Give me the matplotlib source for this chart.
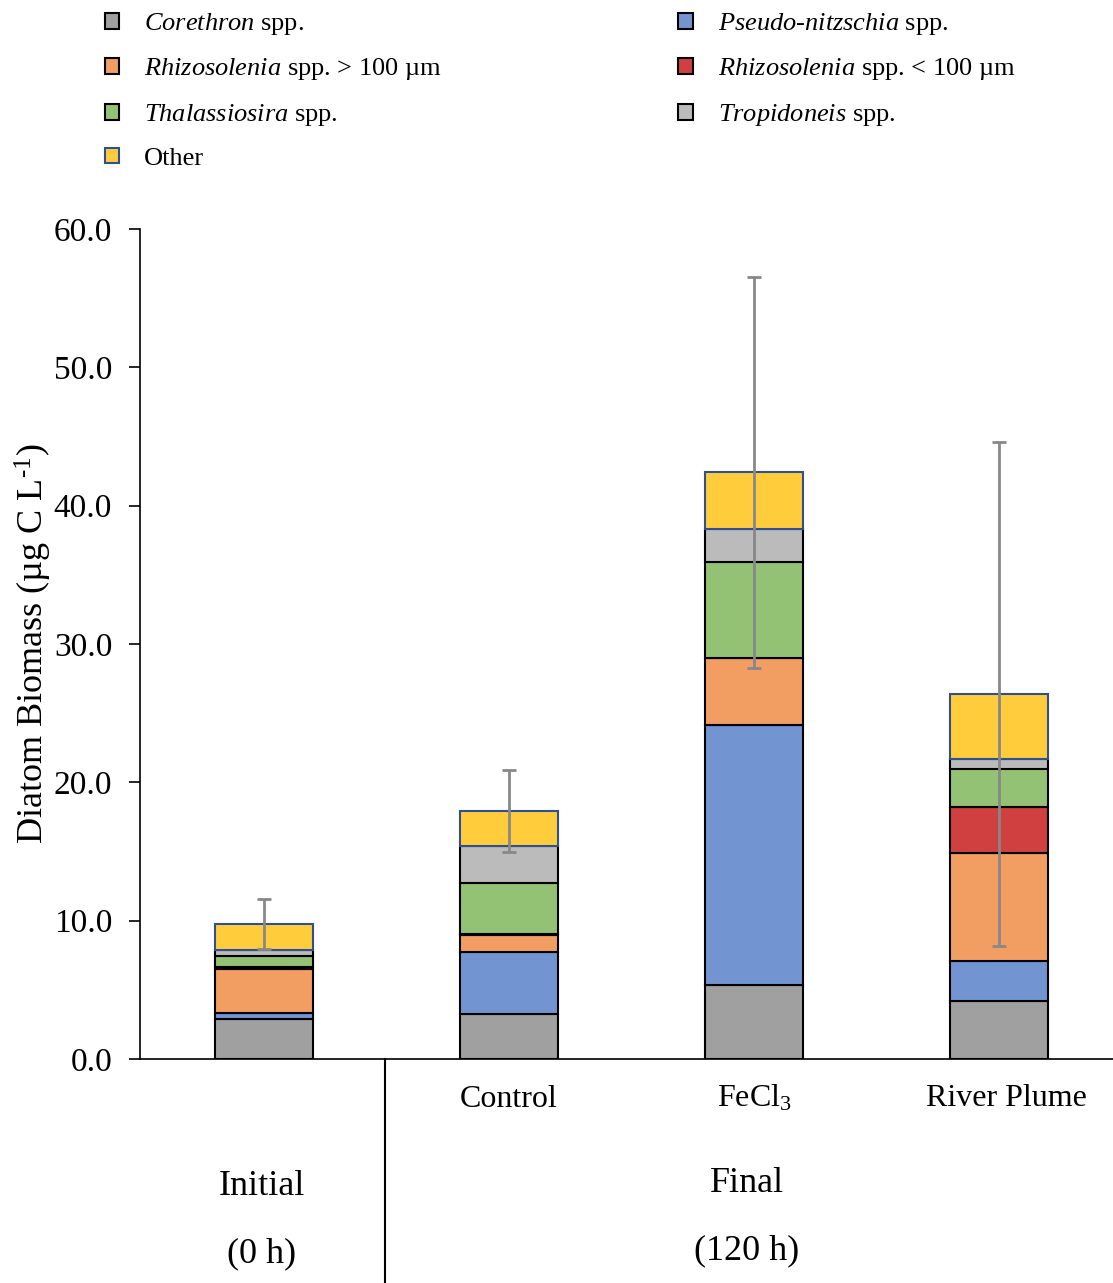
import matplotlib
matplotlib.use('Agg')
import matplotlib.pyplot as plt
import numpy as np
from matplotlib.patches import Patch
from matplotlib.lines import Line2D

plt.rcParams['font.family'] = ['Liberation Serif', 'DejaVu Serif']
plt.rcParams['mathtext.fontset'] = 'custom'
plt.rcParams['mathtext.rm'] = 'Liberation Serif'
plt.rcParams['mathtext.it'] = 'Liberation Serif:italic'

# treatments (bars)
treatments = ['Initial', 'Control', 'FeCl$_3$', 'River Plume']

# biomass per taxon (ug C / L), bottom to top
corethron = [2.9, 3.25, 5.35, 4.2]
pseudo = [0.45, 4.5, 18.8, 2.9]
rhizo_big = [3.15, 1.2, 4.85, 7.8]
rhizo_small = [0.15, 0.1, 0.0, 3.3]
thalassiosira = [0.8, 3.7, 6.9, 2.8]
tropidoneis = [0.45, 2.65, 2.4, 0.7]
other = [1.85, 2.55, 4.1, 4.7]

# error (+/-) on total
total_err = [1.8, 2.95, 14.15, 18.2]

taxa = [
    ('$\\mathit{Corethron}$ spp.', corethron, '#A0A0A0', 'black'),
    ('$\\mathit{Pseudo}$-$\\mathit{nitzschia}$ spp.', pseudo, '#7295D1', 'black'),
    ('$\\mathit{Rhizosolenia}$ spp. > 100 µm', rhizo_big, '#F29E63', 'black'),
    ('$\\mathit{Rhizosolenia}$ spp. < 100 µm', rhizo_small, '#D04040', 'black'),
    ('$\\mathit{Thalassiosira}$ spp.', thalassiosira, '#93C274', 'black'),
    ('$\\mathit{Tropidoneis}$ spp.', tropidoneis, '#BBBBBB', 'black'),
    ('Other', other, '#FFCD3C', '#2F4F8F'),
]

W, H = 1113, 1283
fig = plt.figure(figsize=(W / 100, H / 100), dpi=100)
ax = fig.add_axes([140 / W, 1 - 1059 / H, 1 - 140 / W, (1059 - 229) / H])

x = np.arange(len(treatments))
bottom = np.zeros(len(treatments))
handles = {}
for name, vals, col, ec in taxa:
    vals = np.array(vals)
    ax.bar(x, vals, width=0.4, bottom=bottom, color=col, edgecolor=ec,
           linewidth=1.5, label=name, zorder=2)
    handles[name] = Patch(facecolor=col, edgecolor=ec, linewidth=1.5)
    bottom = bottom + vals

ax.errorbar(x, bottom, yerr=total_err, fmt='none', ecolor='#888888',
            elinewidth=2, capsize=5, capthick=2, zorder=3)

ax.set_xlim(-0.506, 3.465)
ax.set_ylim(0, 60)
ax.set_yticks(np.arange(0, 61, 10))
ax.set_yticklabels(['%.1f' % v for v in np.arange(0, 61, 10)], fontsize=24)
ax.set_xticks([])
for s in ['top', 'right']:
    ax.spines[s].set_visible(False)
ax.spines['left'].set_linewidth(1.2)
ax.spines['bottom'].set_linewidth(1.2)
ax.tick_params(axis='y', direction='out', length=8, width=1.2, pad=12)
ax.set_ylabel('Diatom Biomass (µg C L$^{\\text{-}1}$)', fontsize=26, labelpad=0)

# category labels under the axis
ax.text(x[1], -2.95, treatments[1], ha='center', va='center', fontsize=23)
ax.text(x[2], -2.85, treatments[2], ha='center', va='center', fontsize=23)
ax.text(x[3] + 0.03, -2.85, treatments[3], ha='center', va='center', fontsize=23)
ax.text(x[0] - 0.01, -9.2, 'Initial', ha='center', va='center', fontsize=26)
ax.text(x[0] - 0.01, -14.05, '(0 h)', ha='center', va='center', fontsize=26)
ax.text(1.97, -9.0, 'Final', ha='center', va='center', fontsize=26)
ax.text(1.97, -13.85, '(120 h)', ha='center', va='center', fontsize=26)

fig.add_artist(Line2D([385 / W, 385 / W], [0, 1 - 1059 / H], color='black',
                      linewidth=1.5, transform=fig.transFigure))

order = [taxa[i][0] for i in [0, 2, 4, 6, 1, 3, 5]]
fig.legend([handles[n] for n in order], order, ncol=2, loc='upper left',
           bbox_to_anchor=(81 / W, 1.01), frameon=False, fontsize=19,
           handlelength=0.55, handleheight=0.55, handletextpad=0.95,
           labelspacing=0.74, columnspacing=8.95)

fig.savefig('out.png', dpi=100)
